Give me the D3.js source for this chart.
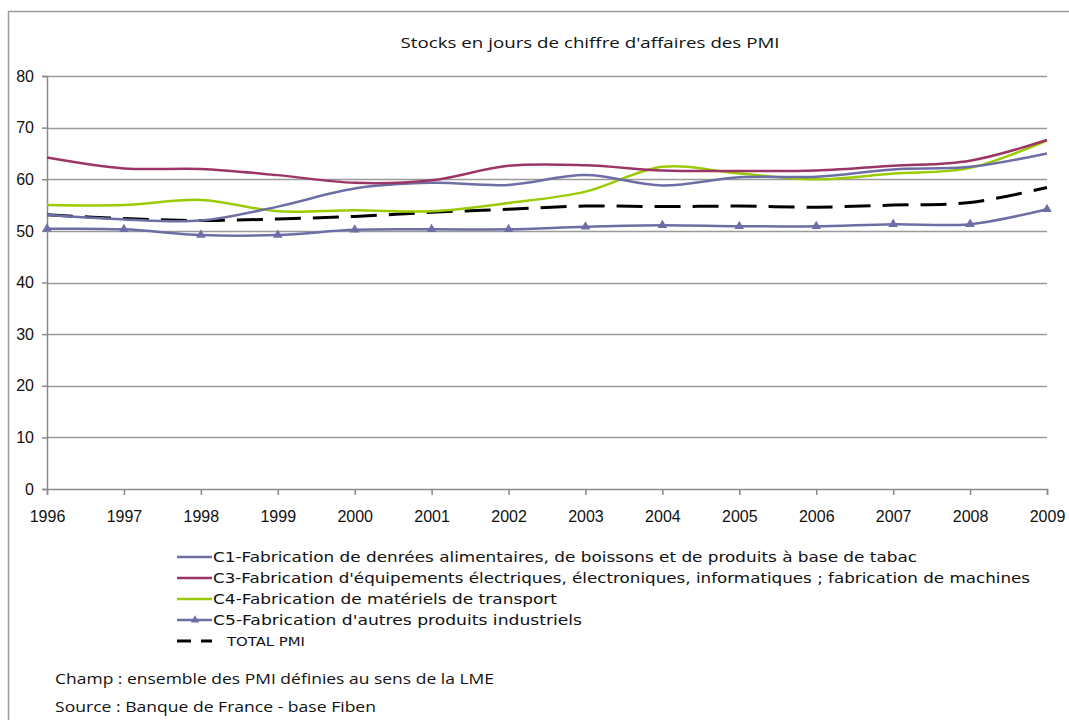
<!DOCTYPE html>
<html><head><meta charset="utf-8">
<script src="https://cdn.jsdelivr.net/npm/d3@7"></script>
<style>html,body{margin:0;padding:0;background:#fff}svg{display:block}</style>
</head><body>
<svg id="chart" width="1069" height="720"></svg>
<script>
const years = [1996,1997,1998,1999,2000,2001,2002,2003,2004,2005,2006,2007,2008,2009];
const yTicks = [0,10,20,30,40,50,60,70,80];
const c1 = [53.1,52.2,52.0,54.7,58.2,59.3,58.9,60.8,58.8,60.4,60.5,61.9,62.4,65.0];
const c3 = [64.2,62.1,62.0,60.8,59.3,59.8,62.6,62.7,61.7,61.6,61.7,62.6,63.6,67.6];
const c4 = [55.0,55.0,56.0,53.8,54.0,53.8,55.4,57.6,62.4,61.1,60.0,61.1,62.2,67.5];
const c5 = [50.4,50.3,49.2,49.2,50.2,50.3,50.3,50.8,51.1,50.9,50.9,51.3,51.3,54.2];
const total = [53.1,52.4,52.0,52.3,52.8,53.6,54.2,54.8,54.7,54.8,54.6,55.0,55.5,58.4];
const seriesNames = [
  "C1-Fabrication de denrées alimentaires, de boissons et de produits à base de tabac",
  "C3-Fabrication d'équipements électriques, électroniques, informatiques ; fabrication de machines",
  "C4-Fabrication de matériels de transport",
  "C5-Fabrication d'autres produits industriels",
  "TOTAL PMI"
];
const title = "Stocks en jours de chiffre d'affaires des PMI";
const notes = ["Champ : ensemble des PMI définies au sens de la LME", "Source : Banque de France - base Fiben"];

const series = [
  {name: seriesNames[0], values: c1, color: "#6E6EA6", width: 2.5, dash: null, marker: false, lw: 704},
  {name: seriesNames[1], values: c3, color: "#9B3566", width: 2.5, dash: null, marker: false, lw: 817},
  {name: seriesNames[2], values: c4, color: "#99CC00", width: 2.5, dash: null, marker: false, lw: 344},
  {name: seriesNames[3], values: c5, color: "#6E6EA6", width: 2.5, dash: null, marker: true, lw: 369},
  {name: seriesNames[4], values: total, color: "#000000", width: 3, dash: "26,12", marker: false, lw: 78}
];

const svg = d3.select("#chart");
const pLeft = 47, pRight = 1047, pTop = 76, pBottom = 489;
const x = d3.scaleLinear().domain([1996, 2009]).range([pLeft, pRight]);
const y = d3.scaleLinear().domain([0, 80]).range([pBottom, pTop]);

// outer border
svg.append("rect").attr("x", 8.5).attr("y", 11.5).attr("width", 1070).attr("height", 720)
  .attr("fill", "none").attr("stroke", "#9a9a9a").attr("stroke-width", 1.5);

// title
svg.append("text").attr("x", 590).attr("y", 48).attr("text-anchor", "middle")
  .attr("font-family", "Open Sans").attr("font-size", 15).attr("fill", "#111")
  .attr("textLength", 379).attr("lengthAdjust", "spacingAndGlyphs").text(title);

// grid
svg.append("g").selectAll("line").data(yTicks.filter(d => d > 0)).join("line")
  .attr("x1", pLeft).attr("x2", pRight).attr("y1", d => Math.round(y(d)) + 0.5).attr("y2", d => Math.round(y(d)) + 0.5)
  .attr("stroke", "#9a9a9a").attr("stroke-width", 1.5);

// y axis
const yAxis = svg.append("g").attr("transform", `translate(${pLeft},0)`)
  .call(d3.axisLeft(y).tickValues(yTicks).tickSize(5).tickPadding(8));
yAxis.select(".domain").attr("stroke", "#8a8a8a").attr("stroke-width", 1.5);
yAxis.selectAll(".tick line").attr("stroke", "#8a8a8a").attr("stroke-width", 1.5);
yAxis.selectAll("text").attr("font-family", "Liberation Sans").attr("font-size", 16).attr("fill", "#111");

// x axis
const xAxis = svg.append("g").attr("transform", `translate(0,${pBottom})`)
  .call(d3.axisBottom(x).tickValues(years).tickFormat(d3.format("d")).tickSize(6).tickPadding(16));
xAxis.select(".domain").attr("stroke", "#8a8a8a").attr("stroke-width", 1.5);
xAxis.selectAll(".tick line").attr("stroke", "#8a8a8a").attr("stroke-width", 1.5);
xAxis.selectAll("text").attr("font-family", "Liberation Sans").attr("font-size", 16).attr("fill", "#111");

// lines
const line = d3.line().x((d, i) => x(years[i])).y(d => y(d)).curve(d3.curveCardinal.tension(0));
const drawOrder = [4, 3, 2, 0, 1];
drawOrder.forEach(k => {
  const s = series[k];
  svg.append("path").datum(s.values).attr("d", line).attr("fill", "none")
    .attr("stroke", s.color).attr("stroke-width", s.width)
    .attr("stroke-dasharray", s.dash);
  if (s.marker) {
    const sym = d3.symbol().type(d3.symbolTriangle).size(40);
    svg.append("g").selectAll("path").data(s.values).join("path")
      .attr("d", sym).attr("transform", (d, i) => `translate(${x(years[i])},${y(d)})`)
      .attr("fill", s.color);
  }
});

// legend
const lg = svg.append("g");
series.forEach((s, i) => {
  const ly = 557 + i * 21;
  lg.append("line").attr("x1", 177).attr("x2", 212).attr("y1", ly).attr("y2", ly)
    .attr("stroke", s.color).attr("stroke-width", s.dash ? 3 : 2.5)
    .attr("stroke-dasharray", s.dash ? "14,10" : null);
  if (s.marker) {
    lg.append("path").attr("d", d3.symbol().type(d3.symbolTriangle).size(30)())
      .attr("transform", `translate(195,${ly})`).attr("fill", s.color);
  }
  const isTotal = i === 4;
  lg.append("text").attr("x", isTotal ? 227 : 213).attr("y", ly + 5)
    .attr("font-family", "DejaVu Sans").attr("font-size", isTotal ? 11.5 : 13.5).attr("fill", "#111")
    .attr("textLength", s.lw).attr("lengthAdjust", "spacingAndGlyphs").text(s.name);
});

// notes
const noteW = [439, 321];
notes.forEach((t, i) => {
  svg.append("text").attr("x", 55).attr("y", 684 + i * 28)
    .attr("font-family", "Open Sans").attr("font-size", 15).attr("fill", "#111")
    .attr("textLength", noteW[i]).attr("lengthAdjust", "spacingAndGlyphs").text(t);
});
</script>
</body></html>
